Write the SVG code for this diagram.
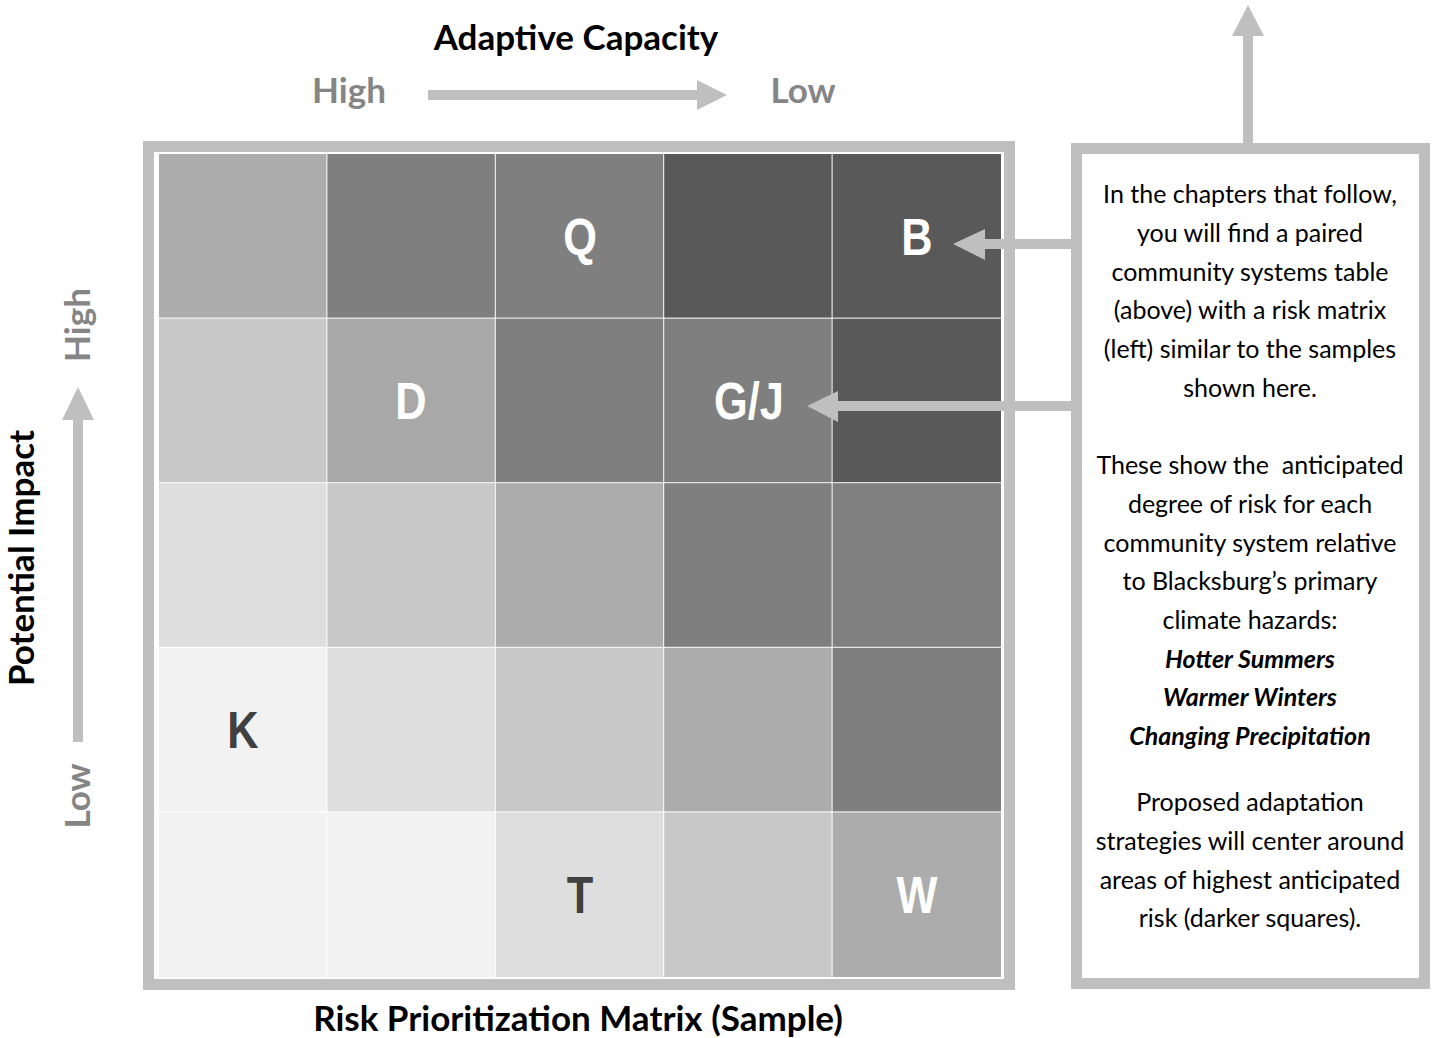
<svg xmlns="http://www.w3.org/2000/svg" width="1435" height="1038" viewBox="0 0 1435 1038">
  <style>
    .frame { fill: none; stroke: #bfbfbf; stroke-width: 11; }
    .arrow { fill: #bfbfbf; }
    .title { font-family: Lato, "Liberation Sans", sans-serif; font-weight: bold; font-size: 35px; fill: #000; text-anchor: middle; }
    .axis { font-family: Lato, "Liberation Sans", sans-serif; font-weight: bold; font-size: 35px; fill: #858585; text-anchor: middle; }
    .cell-label { font-family: "Liberation Sans", Arial, sans-serif; font-weight: bold; font-size: 51px; text-anchor: middle; }
    .light { fill: #ffffff; }
    .dark { fill: #404040; }
    .note { font-family: Lato, "Liberation Sans", sans-serif; font-size: 25px; fill: #000; text-anchor: middle; }
    .hazard { font-weight: bold; font-style: italic; }
  </style>

  <!-- axis titles -->
  <text class="title" x="576" y="50">Adaptive Capacity</text>
  <text class="axis" x="349" y="103">High</text>
  <text class="axis" x="803" y="103">Low</text>
  <text class="title" transform="translate(34,558) rotate(-90)">Potential Impact</text>
  <text class="axis" transform="translate(90,325) rotate(-90)">High</text>
  <text class="axis" transform="translate(90,796) rotate(-90)">Low</text>
  <text class="title" x="578" y="1031">Risk Prioritization Matrix (Sample)</text>

  <!-- matrix -->
  <g id="matrix">
    <rect class="frame" x="148.5" y="146.5" width="861" height="838"/>
    <g id="cells">
      <!-- row 1 -->
      <rect x="159" y="154" width="167.4" height="163.6" fill="#acacac"/>
      <rect x="327.4" y="154" width="167.4" height="163.6" fill="#7f7f7f"/>
      <rect x="495.8" y="154" width="167.4" height="163.6" fill="#7f7f7f"/>
      <rect x="664.2" y="154" width="167.4" height="163.6" fill="#595959"/>
      <rect x="832.6" y="154" width="168.4" height="163.6" fill="#595959"/>
      <!-- row 2 -->
      <rect x="159" y="318.6" width="167.4" height="163.6" fill="#c8c8c8"/>
      <rect x="327.4" y="318.6" width="167.4" height="163.6" fill="#a8a8a8"/>
      <rect x="495.8" y="318.6" width="167.4" height="163.6" fill="#7f7f7f"/>
      <rect x="664.2" y="318.6" width="167.4" height="163.6" fill="#7f7f7f"/>
      <rect x="832.6" y="318.6" width="168.4" height="163.6" fill="#595959"/>
      <!-- row 3 -->
      <rect x="159" y="483.2" width="167.4" height="163.6" fill="#dedede"/>
      <rect x="327.4" y="483.2" width="167.4" height="163.6" fill="#c8c8c8"/>
      <rect x="495.8" y="483.2" width="167.4" height="163.6" fill="#acacac"/>
      <rect x="664.2" y="483.2" width="167.4" height="163.6" fill="#7f7f7f"/>
      <rect x="832.6" y="483.2" width="168.4" height="163.6" fill="#808080"/>
      <!-- row 4 -->
      <rect x="159" y="647.8" width="167.4" height="163.6" fill="#f2f2f2"/>
      <rect x="327.4" y="647.8" width="167.4" height="163.6" fill="#dedede"/>
      <rect x="495.8" y="647.8" width="167.4" height="163.6" fill="#c8c8c8"/>
      <rect x="664.2" y="647.8" width="167.4" height="163.6" fill="#acacac"/>
      <rect x="832.6" y="647.8" width="168.4" height="163.6" fill="#7f7f7f"/>
      <!-- row 5 -->
      <rect x="159" y="812.4" width="167.4" height="164.6" fill="#f2f2f2"/>
      <rect x="327.4" y="812.4" width="167.4" height="164.6" fill="#f2f2f2"/>
      <rect x="495.8" y="812.4" width="167.4" height="164.6" fill="#dedede"/>
      <rect x="664.2" y="812.4" width="167.4" height="164.6" fill="#c8c8c8"/>
      <rect x="832.6" y="812.4" width="168.4" height="164.6" fill="#acacac"/>
    </g>
    <!-- condensed bold letters, centred in their squares -->
    <g id="labels">
      <text class="cell-label light" transform="translate(580,254.5) scale(0.85,1)">Q</text>
      <text class="cell-label light" transform="translate(917,254.5) scale(0.85,1)">B</text>
      <text class="cell-label light" transform="translate(411,419) scale(0.85,1)">D</text>
      <text class="cell-label light" transform="translate(749,419) scale(0.85,1)">G/J</text>
      <text class="cell-label dark" transform="translate(243,748) scale(0.85,1)">K</text>
      <text class="cell-label dark" transform="translate(580,913) scale(0.85,1)">T</text>
      <text class="cell-label light" transform="translate(917,913) scale(0.85,1)">W</text>
    </g>
  </g>

  <!-- explanatory note -->
  <g id="note">
    <rect class="frame" x="1076.5" y="148.5" width="348" height="835"/>
    <text class="note" x="1250" y="203">In the chapters that follow,</text>
    <text class="note" x="1250" y="241.5">you will find a paired</text>
    <text class="note" x="1250" y="280.5">community systems table</text>
    <text class="note" x="1250" y="319">(above) with a risk matrix</text>
    <text class="note" x="1250" y="358">(left) similar to the samples</text>
    <text class="note" x="1250" y="396.5">shown here.</text>
    <text class="note" x="1250" y="474" xml:space="preserve">These show the  anticipated</text>
    <text class="note" x="1250" y="513">degree of risk for each</text>
    <text class="note" x="1250" y="551.5">community system relative</text>
    <text class="note" x="1250" y="590">to Blacksburg’s primary</text>
    <text class="note" x="1250" y="629">climate hazards:</text>
    <text class="note hazard" x="1250" y="667.5">Hotter Summers</text>
    <text class="note hazard" x="1250" y="706">Warmer Winters</text>
    <text class="note hazard" x="1250" y="745">Changing Precipitation</text>
    <text class="note" x="1250" y="811">Proposed adaptation</text>
    <text class="note" x="1250" y="850">strategies will center around</text>
    <text class="note" x="1250" y="888.5">areas of highest anticipated</text>
    <text class="note" x="1250" y="927">risk (darker squares).</text>
  </g>

  <!-- connectors -->
  <g id="connectors">
    <!-- adaptive capacity axis -->
    <polygon class="arrow" points="428,90 697,90 697,80 727,95 697,110 697,100 428,100"/>
    <!-- potential impact axis -->
    <polygon class="arrow" points="73,742 73,420 62,420 78,387 94,420 83,420 83,742"/>
    <!-- note to table above -->
    <polygon class="arrow" points="1243,143 1243,36 1232,36 1248,5 1264,36 1253,36 1253,143"/>
    <!-- note to B -->
    <polygon class="arrow" points="1073,239 985,239 985,229 953,244 985,260 985,249 1073,249"/>
    <!-- note to G/J -->
    <polygon class="arrow" points="1073,401 838,401 838,391 807,406 838,422 838,411 1073,411"/>
  </g>
</svg>
